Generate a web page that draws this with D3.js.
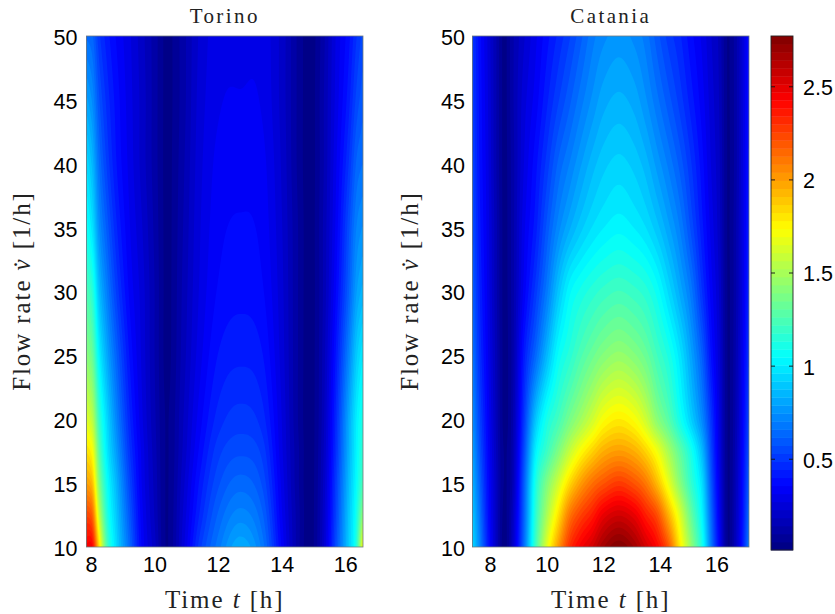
<!DOCTYPE html>
<html><head><meta charset="utf-8">
<script src="https://cdn.jsdelivr.net/npm/d3@7"></script>
<style>
html,body{margin:0;padding:0;background:#fff;}
svg{display:block;}
.num text{font-family:"Liberation Sans",Arial,sans-serif;font-size:21.5px;fill:#000;}
.lab{font-family:"Liberation Serif",serif;font-size:25px;fill:#222;letter-spacing:1.9px;}
.ttl{font-family:"Liberation Serif",serif;font-size:21px;fill:#222;letter-spacing:2.4px;}
</style></head><body>
<svg id="c" width="835" height="614"></svg>
<script>
const titles = ["Torino", "Catania"];
const xTicks = [8, 10, 12, 14, 16];
const yTicks = [10, 15, 20, 25, 30, 35, 40, 45, 50];
const cTicks = [0.5, 1, 1.5, 2, 2.5];
const cDomain = [0.01, 2.77];
const flows = [10, 12.5, 15, 17.5, 20, 25, 30, 35, 40, 45, 50];

const torinoTimes = [7.86, 8.05, 8.25, 8.5, 8.8, 9.2, 9.6, 10.0, 10.4, 10.9, 11.4, 12.0, 12.7, 13.4, 14.0, 14.5, 14.9, 15.3, 15.7, 16.1, 16.35, 16.56];
const torinoValues = [
 [2.45,2.42,1.85,1.25,0.95,0.65,0.35,0.20,0.05,0.25,0.50,0.68,0.82,0.68,0.35,0.12,0.03,0.20,0.55,0.90,1.15,1.75],
 [2.25,2.15,1.60,1.15,0.90,0.60,0.33,0.18,0.05,0.23,0.44,0.62,0.72,0.62,0.32,0.12,0.03,0.19,0.52,0.88,1.10,1.45],
 [2.00,1.90,1.42,1.08,0.85,0.55,0.31,0.17,0.05,0.21,0.40,0.56,0.635,0.56,0.30,0.11,0.03,0.18,0.50,0.85,1.05,1.25],
 [1.82,1.72,1.30,1.00,0.78,0.50,0.30,0.16,0.05,0.19,0.36,0.51,0.56,0.51,0.28,0.11,0.03,0.17,0.47,0.82,1.02,1.18],
 [1.65,1.55,1.20,0.95,0.72,0.46,0.28,0.15,0.05,0.18,0.33,0.46,0.505,0.46,0.27,0.10,0.03,0.16,0.45,0.80,1.00,1.12],
 [1.42,1.32,1.03,0.82,0.62,0.40,0.26,0.14,0.04,0.16,0.29,0.40,0.43,0.40,0.25,0.10,0.03,0.15,0.40,0.70,0.90,1.00],
 [1.25,1.15,0.88,0.70,0.52,0.35,0.25,0.14,0.04,0.15,0.27,0.36,0.385,0.36,0.24,0.10,0.03,0.14,0.35,0.60,0.78,0.85],
 [1.08,0.97,0.75,0.60,0.45,0.32,0.23,0.13,0.04,0.14,0.26,0.34,0.36,0.34,0.23,0.10,0.03,0.14,0.32,0.55,0.70,0.75],
 [0.95,0.85,0.66,0.52,0.40,0.30,0.21,0.12,0.04,0.13,0.25,0.325,0.34,0.325,0.22,0.09,0.03,0.13,0.30,0.48,0.62,0.66],
 [0.80,0.73,0.58,0.47,0.38,0.29,0.21,0.12,0.04,0.12,0.24,0.305,0.315,0.305,0.21,0.09,0.03,0.13,0.28,0.42,0.54,0.60],
 [0.65,0.62,0.50,0.42,0.35,0.28,0.20,0.12,0.04,0.12,0.23,0.295,0.30,0.295,0.21,0.09,0.03,0.12,0.27,0.38,0.48,0.55]
];

const cataniaTimes = [7.38, 7.6, 7.9, 8.2, 8.5, 8.8, 9.2, 9.6, 10, 10.4, 10.8, 11.2, 11.6, 12, 12.55, 13.1, 13.5, 13.9, 14.3, 14.7, 15.1, 15.5, 15.8, 16.1, 16.4, 16.7, 16.95, 17.15];
const cataniaValues = [
 [0.95,0.75,0.45,0.20,0.03,0.20,0.65,1.20,1.65,2.00,2.30,2.45,2.55,2.68,2.77,2.68,2.55,2.42,2.20,1.80,1.45,1.10,0.70,0.35,0.05,0.20,0.45,0.70],
 [0.90,0.70,0.42,0.20,0.04,0.18,0.62,1.15,1.50,1.80,2.10,2.25,2.35,2.48,2.55,2.48,2.35,2.22,1.95,1.65,1.32,1.02,0.65,0.32,0.05,0.19,0.42,0.66],
 [0.85,0.65,0.40,0.20,0.05,0.15,0.60,1.10,1.38,1.60,1.83,2.00,2.12,2.20,2.27,2.20,2.10,1.92,1.68,1.42,1.18,0.95,0.60,0.30,0.05,0.18,0.40,0.62],
 [0.80,0.60,0.38,0.19,0.05,0.14,0.55,1.00,1.20,1.38,1.57,1.73,1.85,1.95,2.00,1.95,1.85,1.70,1.50,1.30,1.10,0.85,0.55,0.28,0.05,0.17,0.38,0.58],
 [0.75,0.56,0.36,0.18,0.04,0.13,0.50,0.88,1.10,1.22,1.36,1.48,1.60,1.72,1.78,1.72,1.60,1.42,1.28,1.10,0.92,0.72,0.50,0.27,0.05,0.16,0.36,0.55],
 [0.68,0.50,0.33,0.17,0.04,0.12,0.42,0.63,0.85,1.05,1.15,1.25,1.33,1.40,1.45,1.40,1.33,1.22,1.12,0.98,0.80,0.60,0.40,0.24,0.05,0.15,0.33,0.50],
 [0.62,0.46,0.31,0.16,0.04,0.12,0.33,0.50,0.68,0.88,1.03,1.10,1.15,1.19,1.22,1.19,1.15,1.07,0.95,0.82,0.68,0.48,0.34,0.22,0.05,0.14,0.30,0.47],
 [0.58,0.43,0.30,0.16,0.04,0.12,0.30,0.42,0.58,0.72,0.82,0.90,0.96,1.00,1.03,1.00,0.96,0.89,0.80,0.70,0.56,0.41,0.30,0.20,0.05,0.14,0.29,0.44],
 [0.55,0.41,0.29,0.15,0.04,0.12,0.27,0.38,0.50,0.62,0.70,0.78,0.85,0.90,0.93,0.90,0.85,0.77,0.69,0.60,0.49,0.37,0.27,0.19,0.05,0.13,0.28,0.42],
 [0.52,0.40,0.28,0.15,0.04,0.13,0.25,0.33,0.43,0.52,0.60,0.68,0.75,0.81,0.84,0.81,0.75,0.67,0.59,0.51,0.42,0.33,0.25,0.18,0.05,0.13,0.27,0.41],
 [0.50,0.39,0.27,0.15,0.04,0.13,0.22,0.30,0.38,0.45,0.52,0.60,0.68,0.73,0.76,0.73,0.68,0.59,0.51,0.45,0.37,0.30,0.23,0.17,0.05,0.13,0.26,0.40]
];

const torinoRange = [7.86, 16.56];
const cataniaRange = [7.38, 17.15];
const levels = 64;

const svg = d3.select("#c");
const yPix = d3.scaleLinear().domain([10, 50]).range([547, 36]);
const colorIdx = d3.scaleLinear().domain(cDomain).range([0, levels]);

function jet(k){
  const n = (k + 0.5) / levels, c = v => Math.max(0, Math.min(1, v));
  const r = c(Math.min(4*n-1.5, -4*n+4.5)), g = c(Math.min(4*n-0.5, -4*n+3.5)), b = c(Math.min(4*n+0.5, -4*n+2.5));
  return d3.rgb(r*255, g*255, b*255).formatHex();
}

// shaded surface between read values (cubic Hermite, like interpolated shading)
function hermite(xs, ys, v){
  let i = d3.bisectRight(xs, v) - 1;
  i = Math.max(0, Math.min(xs.length - 2, i));
  const h = xs[i+1] - xs[i], u = Math.max(0, Math.min(1, (v - xs[i]) / h));
  const slope = j => {
    const a = Math.max(0, j-1), b = Math.min(xs.length-1, j+1);
    return (ys[b]-ys[a]) / (xs[b]-xs[a]);
  };
  const m0 = slope(i), m1 = slope(i+1), u2 = u*u, u3 = u2*u;
  return (2*u3-3*u2+1)*ys[i] + (u3-2*u2+u)*h*m0 + (-2*u3+3*u2)*ys[i+1] + (u3-u2)*h*m1;
}

function panel(idx, times, values, range, px, labelX, padY){
  const x = d3.scaleLinear().domain(range).range(px);
  const g = svg.append("g");
  const nx = Math.round((px[1]-px[0]) / 1.5), ny = Math.round((547-36) / 1.5);
  const grid = new Float64Array(nx * ny);
  for (let i = 0; i < nx; i++) {
    const t = range[0] + (i + 0.5) / nx * (range[1] - range[0]);
    const col = values.map(row => hermite(times, row, t));
    for (let j = 0; j < ny; j++) {
      const f = 50 - (j + 0.5) / ny * 40;
      grid[j*nx + i] = hermite(flows, col, f);
    }
  }
  g.append("rect").attr("x", px[0]).attr("y", 36).attr("width", px[1]-px[0]).attr("height", 511).attr("fill", jet(0));
  const thresholds = d3.range(1, levels).map(k => colorIdx.invert(k));
  const contours = d3.contours().size([nx, ny]).thresholds(thresholds)(grid);
  const path = d3.geoPath(d3.geoTransform({point(cx, cy){
    this.stream.point(px[0] + cx / nx * (px[1]-px[0]), 36 + cy / ny * 511);
  }}));
  g.selectAll("path.lvl").data(contours).join("path").attr("class","lvl")
    .attr("d", path).attr("fill", (d, i) => jet(i + 1));
  g.append("rect").attr("x", px[0]).attr("y", 36).attr("width", px[1]-px[0]).attr("height", 511)
    .attr("fill", "none").attr("stroke", "#6f7a80").attr("stroke-width", 0.8);

  const ax = svg.append("g").attr("class","num").attr("transform","translate(0,547)")
    .call(d3.axisBottom(x).tickValues(xTicks).tickSize(0).tickPadding(10).tickFormat(d3.format("d")));
  ax.select(".domain").remove();
  const ay = svg.append("g").attr("class","num").attr("transform",`translate(${px[0]},0)`)
    .call(d3.axisLeft(yPix).tickValues(yTicks).tickSize(0).tickPadding(padY).tickFormat(d3.format("d")));
  ay.select(".domain").remove();
  ay.selectAll("text").attr("dy", "0.39em");

  const cx = (px[0]+px[1])/2;
  svg.append("text").attr("class","ttl").attr("x",cx).attr("y",23).attr("text-anchor","middle").text(titles[idx]);
  const xl = svg.append("text").attr("class","lab").attr("x",cx).attr("y",608).attr("text-anchor","middle");
  xl.append("tspan").text("Time ");
  xl.append("tspan").attr("font-style","italic").text("t");
  xl.append("tspan").text(" [h]");
  const yl = svg.append("text").attr("class","lab").attr("text-anchor","middle")
    .attr("transform",`translate(${labelX},291) rotate(-90)`);
  yl.append("tspan").text("Flow rate ");
  yl.append("tspan").attr("font-style","italic").text("v\u0307");
  yl.append("tspan").text(" [1/h]");
}

panel(0, torinoTimes, torinoValues, torinoRange, [86.5, 363], 30, 9);
panel(1, cataniaTimes, cataniaValues, cataniaRange, [472.5, 749], 418, 7.5);

// colour bar
const cy = d3.scaleLinear().domain(cDomain).range([550, 36]);
const cbx = [771, 793];
const step = (cDomain[1]-cDomain[0]) / levels;
const cells = d3.range(levels);
svg.append("g").selectAll("rect").data(cells).join("rect")
  .attr("x", cbx[0]).attr("width", cbx[1]-cbx[0])
  .attr("y", k => cy(cDomain[0] + (k+1)*step))
  .attr("height", k => cy(cDomain[0] + k*step) - cy(cDomain[0] + (k+1)*step) + 0.4)
  .attr("fill", k => jet(k));
svg.append("rect").attr("x",cbx[0]).attr("y",36).attr("width",cbx[1]-cbx[0]).attr("height",514)
  .attr("fill","none").attr("stroke","#222").attr("stroke-width",0.9);
const cAxis = svg.append("g").attr("class","num").attr("transform",`translate(${cbx[1]},0)`)
  .call(d3.axisRight(cy).tickValues(cTicks).tickSize(-4).tickPadding(10).tickFormat(d3.format("")));
cAxis.select(".domain").remove();
cAxis.selectAll("line").attr("stroke","#111").attr("stroke-width",0.9);
cAxis.selectAll("text").attr("dy", "0.39em");
svg.append("g").attr("transform",`translate(${cbx[0]},0)`)
  .call(d3.axisRight(cy).tickValues(cTicks).tickSize(4).tickFormat(""))
  .call(g => g.select(".domain").remove())
  .call(g => g.selectAll("line").attr("stroke","#111").attr("stroke-width",0.9));
</script>
</body></html>
